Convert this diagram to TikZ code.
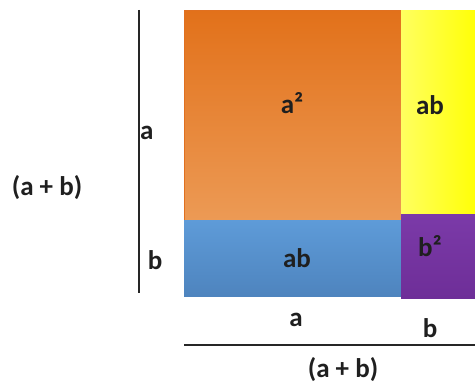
\documentclass[tikz,border=0pt]{standalone}
\usepackage{fontspec}
\setmainfont{Carlito}
\usepackage{tikz}
\usetikzlibrary{calc}
\definecolor{orangetop}{HTML}{E2711A}
\definecolor{orangebot}{HTML}{EC9A55}
\definecolor{orangeline}{HTML}{E07020}
\definecolor{yellowleft}{HTML}{FFFF60}
\definecolor{yellowright}{HTML}{FFFF00}
\definecolor{bluetop}{HTML}{5E9BD8}
\definecolor{bluebot}{HTML}{4E84BE}
\definecolor{purpletop}{HTML}{7B3AA8}
\definecolor{purplebot}{HTML}{6E2E98}
\tikzset{
  area/.style  = {rectangle, inner sep=0pt, anchor=north west},
  lbl/.style   = {font=\fontsize{27}{30}\selectfont\bfseries, inner sep=0pt,
                  text=black!88},
  side/.style  = {line width=1.6pt, black!85},
}

\begin{document}
\begin{tikzpicture}[x=1pt, y=-1pt]
  \useasboundingbox (0,0) rectangle (475,385);

  % the four areas
  \node[area, minimum width=217pt, minimum height=210pt,
        top color=orangetop, bottom color=orangebot,
        draw=orangeline, line width=1pt] (sqa) at (184,10) {};
  \node[area, minimum width=80pt, minimum height=204pt,
        left color=yellowleft, right color=yellowright] (rab1) at (401,10) {};
  \node[area, minimum width=217pt, minimum height=76pt,
        top color=bluetop, bottom color=bluebot] (rab2) at (184,220) {};
  \node[area, minimum width=80pt, minimum height=84pt,
        top color=purpletop, bottom color=purplebot] (sqb) at (401,214) {};

  % area labels
  \node[lbl] (la2) at (292,103) {a²};
  \node[lbl] (lab1) at (430,105) {ab};
  \node[lbl] (lab2) at (297,258) {ab};
  \node[lbl] (lb2) at (430,246) {b²};

  % left side
  \coordinate (vtop) at (139,10);
  \coordinate (vbot) at (139,293);
  \draw[side] (vtop) -- (vbot);
  \node[lbl, anchor=west] (sa) at (140,133) {a};
  \node[lbl] (sb) at (155,260) {b};
  \node[lbl] (sab) at (47,188) {(a + b)};

  % bottom side
  \coordinate (hl) at (184,345);
  \coordinate (hr) at (475,345);
  \draw[side] (hl) -- (hr);
  \node[lbl] (ba) at (296,320) {a};
  \node[lbl] (bb) at (430,328) {b};
  \node[lbl] (bab) at (343,370) {(a + b)};
\end{tikzpicture}
\end{document}
